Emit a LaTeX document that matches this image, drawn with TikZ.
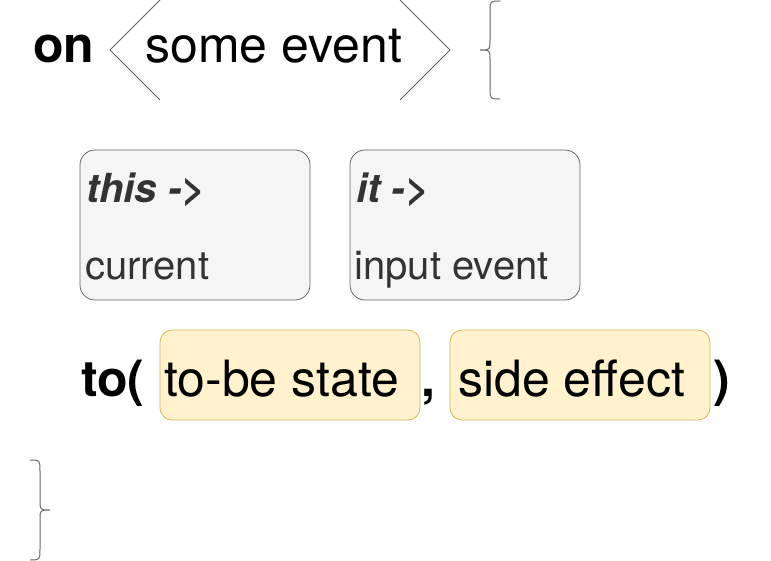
\documentclass[tikz,border=0pt]{standalone}
\usepackage{fontspec}
\setmainfont{TeX Gyre Heros}
\usepackage{xcolor}
\usetikzlibrary{positioning}

\definecolor{greyfill}{HTML}{F5F5F5}
\definecolor{greyline}{HTML}{666666}
\definecolor{greytext}{HTML}{333333}
\definecolor{yellowfill}{HTML}{FFF2CC}
\definecolor{yellowline}{HTML}{D6B656}

\begin{document}
\begin{tikzpicture}[x=1pt, y=-1pt,
    big/.style={font=\fontsize{50}{60}\selectfont, inner sep=0pt, anchor=base west},
    small/.style={font=\fontsize{40}{48}\selectfont, inner sep=0pt, anchor=base west, text=greytext},
    greybox/.style={draw=greyline, fill=greyfill, rounded corners=15pt, minimum width=230pt, minimum height=150pt, line width=0.8pt},
    yellowbox/.style={draw=yellowline, fill=yellowfill, rounded corners=12pt, minimum width=260pt, minimum height=90pt, line width=0.8pt},
    stroke/.style={draw=greyline, line width=1pt}]
                        \useasboundingbox (0,0) rectangle (771,561);
                        % header: on <some event> {
                        \node[big] (on) at (33, 63) {\bfseries on};
                        \node[big] (ev) at (145, 63) {some event};
                        \draw[stroke] (160,0) -- (110,50) -- (160,100);
                        \draw[stroke] (400,0) -- (450,50) -- (400,100);
                        \draw[stroke] (500,1) .. controls (490,1) .. (490,12) -- (490,40)
                            .. controls (490,50) .. (480,50) .. controls (490,50) .. (490,60)
                            -- (490,88) .. controls (490,99) .. (500,99);
                        % receivers
                        \node[greybox] (b1) at (195, 225) {};
                        \node[greybox] (b2) at (465, 225) {};
                        \node[small] (this) at (86, 203) {\bfseries\itshape this ->};
                        \node[small] (cur) at (85, 280) {current};
                        \node[small] (it) at (356, 203) {\bfseries\itshape it ->};
                        \node[small] (inp) at (354, 280) {input event};
                        % to( state , effect )
                        \node[yellowbox] (s1) at (290, 375) {};
                        \node[yellowbox] (s2) at (580, 375) {};
                        \node[big] (to) at (81, 396) {\bfseries to(};
                        \node[big] (st) at (164, 396) {to-be state};
                        \node[big] (cm) at (421, 396) {\bfseries ,};
                        \node[big] (fx) at (458, 396) {side effect};
                        \node[big] (cl) at (713, 396) {\bfseries )};
                        % closing brace
                        \draw[stroke] (30,460) .. controls (40,460) .. (40,471) -- (40,500)
                            .. controls (40,510) .. (50,510) .. controls (40,510) .. (40,520)
                            -- (40,549) .. controls (40,560) .. (30,560);
                    \end{tikzpicture}
\end{document}
